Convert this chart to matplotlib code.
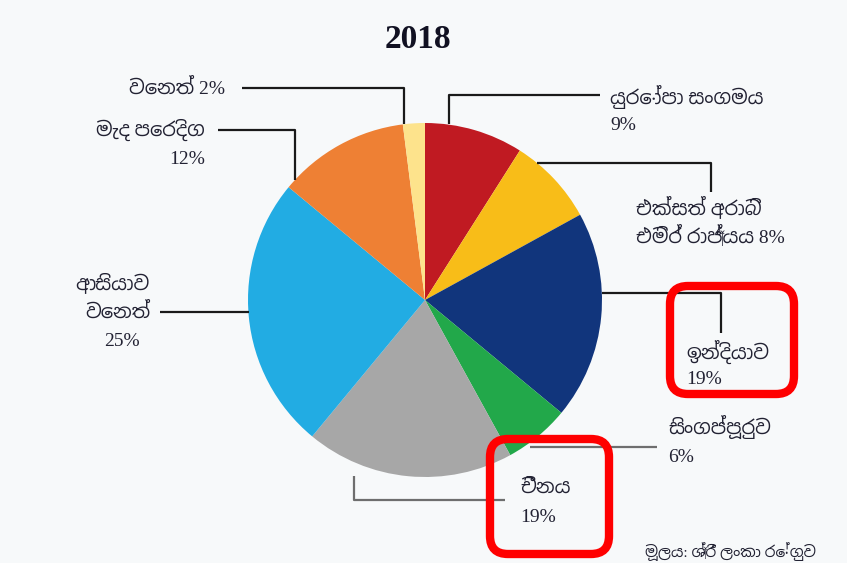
import matplotlib
matplotlib.use('Agg')
import matplotlib.pyplot as plt
from matplotlib import font_manager
from matplotlib.patches import FancyBboxPatch

# ---------------------- Data --------------------------- #

TITLE = "2018"
SHARES = [9, 8, 19, 6, 19, 25, 12, 2]
NAMES = ["යුරෝපා සංගමය", "එක්සත් අරාබි\nඑමිර් රාජ්‍යය", "ඉන්දියාව", "සිංගප්පූරුව",
         "චීනය", "ආසියාව\nවෙනත්", "මැද පෙරදිග", "වෙනත්"]
COLORS = ['#c01a22', '#f8bd18', '#11357c', '#22a84a',
          '#a7a7a7', '#22ace3', '#ee8034', '#fde38c']
SOURCE = "මූලය: ශ්‍රී ලංකා රේගුව"

W, H = 847, 563
BG = '#f7f9fa'
TXT = '#222233'


def find_sinhala_font():
    for f in font_manager.fontManager.ttflist:
        n = f.name.lower()
        if 'sinhala' in n or 'iskoola' in n:
            return f.name
    try:
        from fontTools.ttLib import TTFont
        for f in font_manager.fontManager.ttflist:
            if not f.fname.lower().endswith(('.ttf', '.otf')):
                continue
            try:
                cmap = TTFont(f.fname, lazy=True).getBestCmap()
                if cmap and 0x0DC0 in cmap and 0x0DCA in cmap:
                    return f.name
            except Exception:
                pass
    except ImportError:
        pass
    return None


si = find_sinhala_font()
FAM = ['Liberation Serif'] + ([si] if si else ['DejaVu Sans'])

fig = plt.figure(figsize=(W / 100, H / 100), dpi=100, facecolor=BG)
ax = fig.add_axes([0, 0, 1, 1])
ax.axis('off')
ax.set_facecolor(BG)

# pie: center / radius in pixel units (y measured from the top)
cx, cy, r = 425, 300, 177
ax.pie(SHARES, colors=COLORS, startangle=90, counterclock=False,
       center=(cx, H - cy), radius=r, wedgeprops=dict(linewidth=0))
ax.set_xlim(0, W)
ax.set_ylim(0, H)
ax.set_aspect('equal')


def px(x, y):
    return x, H - y


def leader(pts, color='#1a1a1a'):
    xs = [p[0] for p in pts]
    ys = [H - p[1] for p in pts]
    ax.plot(xs, ys, color=color, lw=1.6, solid_capstyle='butt', zorder=3)


def label(x, y, s, ha='left', size=14):
    ax.text(*px(x, y), s, ha=ha, va='center', fontsize=size, color=TXT,
            family=FAM)


def pct(v):
    return "%d%%" % v


ax.text(*px(418, 40), TITLE, ha='center', va='center', fontsize=24,
        fontweight='bold', family=['Liberation Serif'], color='#111122')

# leader lines
leader([(449, 124), (449, 95), (600, 95)])
leader([(537, 163), (711, 163), (711, 192)])
leader([(602, 293), (721, 293), (721, 333)])
leader([(530, 447), (657, 447)], color='#6e6e6e')
leader([(354, 476), (354, 500), (505, 500)], color='#6e6e6e')
leader([(160, 312), (249, 312)])
leader([(218, 130), (295, 130), (295, 180)])
leader([(242, 88), (404, 88), (404, 124)])

# labels
label(610, 97, NAMES[0])
label(610, 125, pct(SHARES[0]))
label(636, 207, NAMES[1].split("\n")[0])
label(636, 236, NAMES[1].split("\n")[1] + " " + pct(SHARES[1]))
label(686, 352, NAMES[2])
label(686, 379, pct(SHARES[2]))
label(668, 427, NAMES[3])
label(668, 458, pct(SHARES[3]))
label(520, 488, NAMES[4])
label(520, 518, pct(SHARES[4]))
label(150, 283, NAMES[5].split("\n")[0], ha='right')
label(150, 312, NAMES[5].split("\n")[1], ha='right')
label(140, 342, pct(SHARES[5]), ha='right')
label(205, 130, NAMES[6], ha='right')
label(205, 160, pct(SHARES[6]), ha='right')
label(225, 88, NAMES[7] + " " + pct(SHARES[7]), ha='right')
label(645, 552, SOURCE, size=11)

# red highlight boxes
for (x0, y0, x1, y1) in [(670, 286, 794, 394), (490, 439, 609, 554)]:
    box = FancyBboxPatch((x0, H - y1), x1 - x0, y1 - y0,
                         boxstyle='round,pad=0,rounding_size=18',
                         fill=False, edgecolor='#ff0000', linewidth=6, zorder=5)
    ax.add_patch(box)

fig.savefig('out.png', dpi=100, facecolor=BG)
